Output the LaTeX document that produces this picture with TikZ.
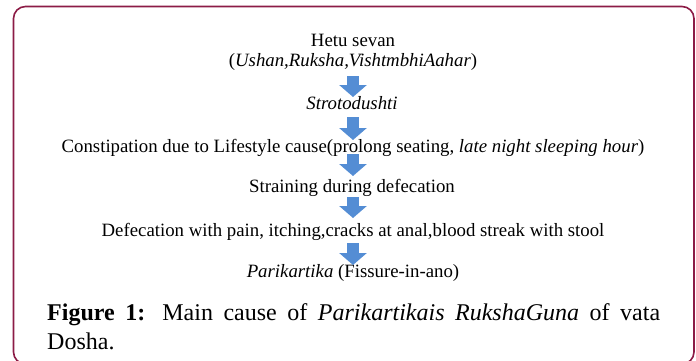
\documentclass[tikz,border=0pt]{standalone}
\usepackage{fontspec}
\setmainfont{Liberation Serif}
\usetikzlibrary{arrows.meta}
\definecolor{framered}{RGB}{140,28,70}
\definecolor{arrowblue}{RGB}{84,141,212}
\tikzset{every node/.style={font=\fontsize{18.8}{22}\selectfont,inner sep=0pt,text height=13pt,text depth=4pt},
  blockarrow/.style={draw=arrowblue,line width=12pt,-{Triangle[width=27pt,length=12pt]}}}

\begin{document}
\begin{tikzpicture}[x=1pt,y=-1pt]
  \path[use as bounding box] (0,0) rectangle (696,360);
  \draw[framered,line width=1.6pt,rounded corners=12pt] (13.5,6.5) rectangle (694,364);
  \node (hetu) at (353,41.5) {Hetu sevan};
  \node (ahar) at (353,62) {(\textit{Ushan,Ruksha,VishtmbhiAahar})};
  \node (stroto) at (352,105) {\textit{Strotodushti}};
  \node (consti) at (353,148) {Constipation due to Lifestyle cause(prolong seating, \textit{late night sleeping hour})};
  \node (strain) at (352,188) {Straining during defecation};
  \node (defec) at (353,232) {Defecation with pain, itching,cracks at anal,blood streak with stool};
  \node (pari) at (353,273) {\textit{Parikartika} (Fissure-in-ano)};
  \node[anchor=base west,text width=613pt,align=justify,text height=,text depth=,
    font=\fontsize{24}{29}\selectfont] (caption) at (47,320)
    {\textbf{Figure 1:} Main cause of \textit{Parikartikais RukshaGuna} of vata\linebreak Dosha.};
  \draw[blockarrow,shorten <=14pt,shorten >=8pt] (ahar.center) -- (stroto.center -| ahar.center);
  \draw[blockarrow,shorten <=12pt,shorten >=8pt] (stroto.center -| ahar.center) -- (consti.center);
  \draw[blockarrow,shorten <=6pt,shorten >=12pt] (consti.center) -- (strain.center -| consti.center);
  \draw[blockarrow,shorten <=9pt,shorten >=14pt] (strain.center -| consti.center) -- (defec.center);
  \draw[blockarrow,shorten <=11pt,shorten >=8pt] (defec.center) -- (pari.center);
\end{tikzpicture}
\end{document}
